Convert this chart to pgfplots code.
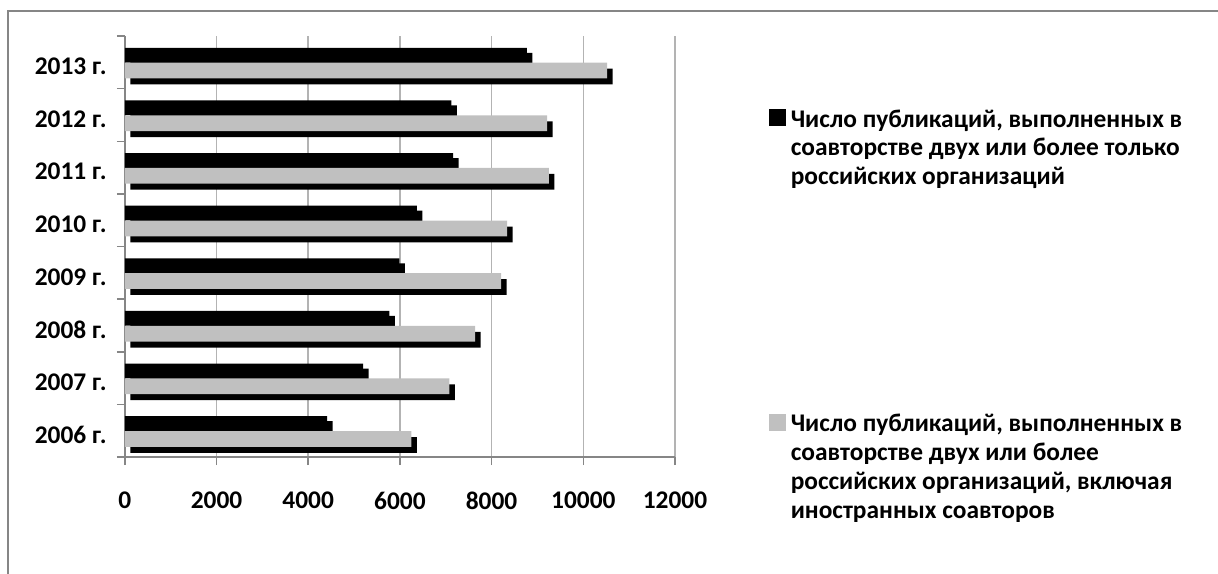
\documentclass[border=0pt]{standalone}
\usepackage{pgfplots}
\pgfplotsset{compat=1.18}
\usepackage{fontspec}
\setmainfont{Carlito}
\definecolor{barGray}{RGB}{192,192,192}
\definecolor{gridGray}{RGB}{179,179,179}
\definecolor{axGray}{RGB}{134,134,134}
\definecolor{frameGray}{RGB}{134,134,134}
\newcommand\lf{\bfseries\fontsize{12.7}{14.4}\selectfont}
\begin{document}
\begin{tikzpicture}
\path[use as bounding box] (0,0) rectangle (609pt,-286.5pt);
\draw[frameGray, line width=0.75pt] (4pt,-290pt) -- (4pt,-5.5pt) -- (612pt,-5.5pt);
\begin{axis}[
  at={(62.4pt,-228.5pt)}, anchor=south west,
  scale only axis, width=275.1pt, height=210.5pt,
  xbar, xmin=0, xmax=12000, ymin=-0.5, ymax=7.5,
  enlargelimits=false,
  axis x line*=bottom, axis y line*=left,
  axis line style={draw=axGray, line width=0.75pt},
  xtick={0,2000,...,12000},
  scaled x ticks=false,
  ytick={-0.5,0.5,...,7.5},
  yticklabels={2006 г.,2007 г.,2008 г.,2009 г.,2010 г.,2011 г.,2012 г.,2013 г.},
  y tick label as interval,
  tick align=outside,
  major tick length=4pt,
  every tick/.style={draw=axGray, line width=0.75pt},
  xmajorgrids, ymajorgrids=false,
  major grid style={draw=gridGray, line width=0.8pt},
  tick label style={font=\lf},
  /pgf/number format/assume math mode=true,
  /pgf/number format/set thousands separator={},
  x tick label style={yshift=-10pt},
  y tick label style={xshift=-1.5pt, yshift=-2pt},
  legend cell align=left,
  legend style={at={(axis description cs:1.1708,0.8317)}, anchor=north west,
    draw=none, fill=none, inner sep=0pt, outer sep=0pt,
    row sep=142.4pt, column sep=2.5pt, font=\lf,
    cells={anchor=base west},
    nodes={inner sep=0pt, outer sep=0pt, text depth=0pt}},
]
\addplot[xbar, forget plot, fill=black, draw=none, bar width=7.4pt, bar shift=3.55pt,
  preaction={fill=black, draw=none, transform canvas={xshift=2.75pt, yshift=-2.5pt}}]
  coordinates {(4410,0) (5200,1) (5770,2) (5990,3) (6370,4) (7160,5) (7120,6) (8770,7)};
\addplot[xbar, forget plot, fill=barGray, draw=none, bar width=7.9pt, bar shift=-4.13pt,
  preaction={fill=black, draw=none, transform canvas={xshift=2.75pt, yshift=-3pt}}]
  coordinates {(6250,0) (7080,1) (7640,2) (8210,3) (8340,4) (9250,5) (9210,6) (10520,7)};
\addlegendimage{legend image code/.code={\fill[black] (0pt,1pt) rectangle (8pt,9pt);}}
\addlegendentry{\begin{tabular}[t]{@{}l@{}}Число публикаций, выполненных в\\соавторстве двух или более только\\российских организаций\end{tabular}}
\addlegendimage{legend image code/.code={\fill[barGray] (0pt,1pt) rectangle (8pt,9pt);}}
\addlegendentry{\begin{tabular}[t]{@{}l@{}}Число публикаций, выполненных в\\соавторстве двух или более\\российских организаций, включая\\иностранных соавторов\end{tabular}}
\end{axis}
\end{tikzpicture}
\end{document}
